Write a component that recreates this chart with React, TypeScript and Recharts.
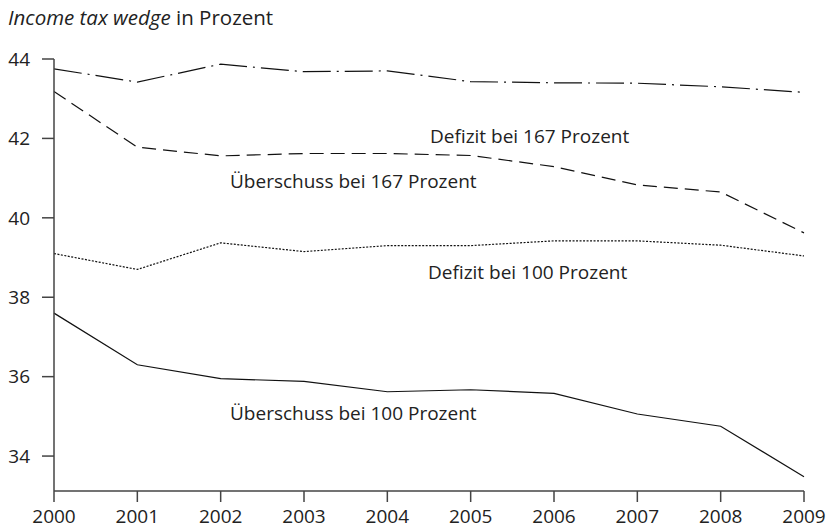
import React from 'react';
import { LineChart, Line, XAxis, YAxis } from 'recharts';

const years = [2000, 2001, 2002, 2003, 2004, 2005, 2006, 2007, 2008, 2009];
const defizit167 = [43.75, 43.42, 43.87, 43.68, 43.7, 43.43, 43.4, 43.39, 43.3, 43.16];
const ueberschuss167 = [43.18, 41.78, 41.56, 41.62, 41.62, 41.57, 41.29, 40.83, 40.65, 39.62];
const defizit100 = [39.1, 38.7, 39.37, 39.15, 39.3, 39.3, 39.42, 39.42, 39.31, 39.04];
const ueberschuss100 = [37.6, 36.3, 35.95, 35.88, 35.62, 35.67, 35.58, 35.06, 34.75, 33.48];
const yTicks = [34, 36, 38, 40, 42, 44];

const data = years.map((year, i) => ({
  year,
  d167: defizit167[i],
  u167: ueberschuss167[i],
  d100: defizit100[i],
  u100: ueberschuss100[i],
}));

const FONT = '"Open Sans", sans-serif';
const tickStyle = { fontSize: 19, fill: '#222', fontFamily: FONT };
const axisLine = { stroke: '#444', strokeWidth: 1.5 };

const labels = [
  { text: 'Defizit bei 167 Prozent', x: 430, y: 143 },
  { text: 'Überschuss bei 167 Prozent', x: 230, y: 188 },
  { text: 'Defizit bei 100 Prozent', x: 428, y: 279 },
  { text: 'Überschuss bei 100 Prozent', x: 230, y: 420 },
];

export default function App() {
  return (
    <div style={{ position: 'relative', width: 828, height: 530, background: '#fff' }}>
      <style>{`body{margin:0}`}</style>
      <LineChart width={828} height={530} data={data} margin={{ top: 59, right: 24, bottom: 0, left: 0 }}>
        <XAxis
          dataKey="year"
          type="number"
          domain={[2000, 2009]}
          ticks={years}
          tick={tickStyle}
          tickSize={11}
          tickMargin={8}
          height={39}
          axisLine={axisLine}
          tickLine={axisLine}
        />
        <YAxis
          type="number"
          domain={[33.12, 44]}
          ticks={yTicks}
          tick={tickStyle}
          tickSize={12}
          tickMargin={12}
          width={54}
          axisLine={axisLine}
          tickLine={axisLine}
        />
        <Line dataKey="d167" stroke="#111" strokeWidth={1.2} strokeDasharray="28 6 2 6" dot={false} isAnimationActive={false} />
        <Line dataKey="u167" stroke="#111" strokeWidth={1.2} strokeDasharray="14 7" dot={false} isAnimationActive={false} />
        <Line dataKey="d100" stroke="#111" strokeWidth={1.2} strokeDasharray="2 1.5" dot={false} isAnimationActive={false} />
        <Line dataKey="u100" stroke="#111" strokeWidth={1.2} dot={false} isAnimationActive={false} />
      </LineChart>
      <svg width={828} height={530} style={{ position: 'absolute', left: 0, top: 0, pointerEvents: 'none' }}>
        <text x={8} y={25} fontSize={20.5} fontFamily={FONT} fill="#222">
          <tspan fontStyle="italic">Income tax wedge</tspan> in Prozent
        </text>
        {labels.map(l => (
          <text key={l.text} x={l.x} y={l.y} fontSize={19} fontFamily={FONT} fill="#222">{l.text}</text>
        ))}
      </svg>
    </div>
  );
}
